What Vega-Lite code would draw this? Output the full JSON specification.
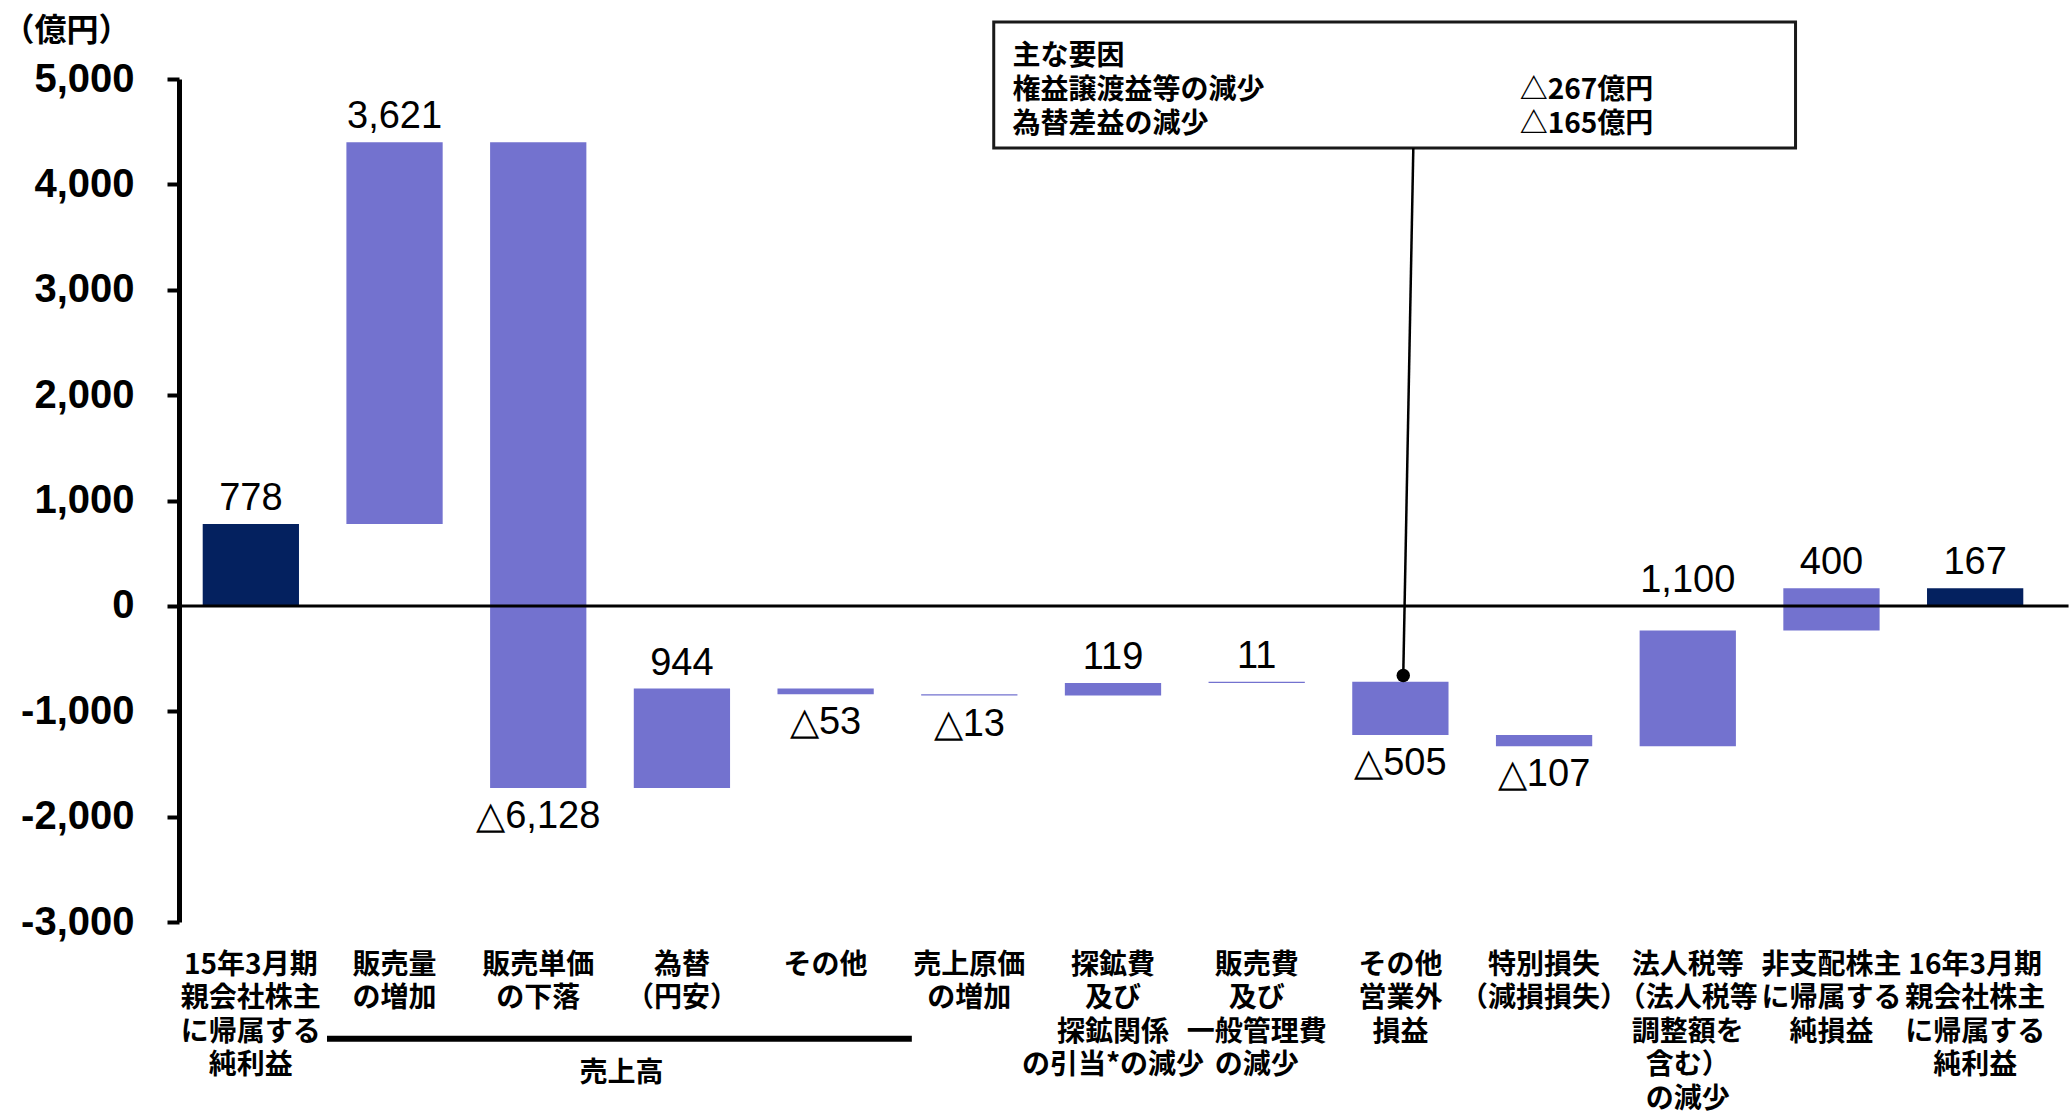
{
  "$schema": "https://vega.github.io/schema/vega-lite/v6.json",
  "width": 1868,
  "height": 843,
  "autosize": {"type": "none"},
  "padding": {"left": 179, "top": 79, "right": 24, "bottom": 195},
  "background": "white",
  "datasets": {
    "bridge": [
      {"label": "15年3月期\n親会社株主\nに帰属する\n純利益", "start": 0, "end": 778, "kind": "total", "text": "778"},
      {"label": "販売量\nの増加", "start": 778, "end": 4399, "kind": "up", "text": "3,621"},
      {"label": "販売単価\nの下落", "start": 4399, "end": -1729, "kind": "down", "text": "△6,128"},
      {"label": "為替\n（円安）", "start": -1729, "end": -785, "kind": "up", "text": "944"},
      {"label": "その他", "start": -785, "end": -838, "kind": "down", "text": "△53"},
      {"label": "売上原価\nの増加", "start": -838, "end": -851, "kind": "down", "text": "△13"},
      {"label": "探鉱費\n及び\n探鉱関係\nの引当*の減少", "start": -851, "end": -732, "kind": "up", "text": "119"},
      {"label": "販売費\n及び\n一般管理費\nの減少", "start": -732, "end": -721, "kind": "up", "text": "11"},
      {"label": "その他\n営業外\n損益", "start": -721, "end": -1226, "kind": "down", "text": "△505"},
      {"label": "特別損失\n（減損損失）", "start": -1226, "end": -1333, "kind": "down", "text": "△107"},
      {"label": "法人税等\n（法人税等\n調整額を\n含む）\nの減少", "start": -1333, "end": -233, "kind": "up", "text": "1,100"},
      {"label": "非支配株主\nに帰属する\n純損益", "start": -233, "end": 167, "kind": "up", "text": "400"},
      {"label": "16年3月期\n親会社株主\nに帰属する\n純利益", "start": 0, "end": 167, "kind": "total", "text": "167"}
    ]
  },
  "data": {"name": "bridge"},
  "resolve": {
    "scale": {"x": "independent", "y": "independent"},
    "axis": {"x": "independent", "y": "independent"}
  },
  "layer": [
    {
      "layer": [
        {
          "mark": {"type": "bar"},
          "encoding": {
            "x": {
              "field": "label",
              "type": "nominal",
              "sort": null,
              "scale": {"paddingInner": 0.33, "paddingOuter": 0.165},
              "axis": {
                "title": null,
                "domain": false,
                "ticks": false,
                "labelAngle": 0,
                "labelExpr": "split(datum.label, '\\n')",
                "labelFont": "Noto Sans CJK JP",
                "labelFontWeight": "bold",
                "labelFontSize": 28,
                "labelLineHeight": 33.5,
                "labelBaseline": "top",
                "labelPadding": 29,
                "labelColor": "black",
                "labelOverlap": false,
                "labelBound": false,
                "labelLimit": 400
              }
            },
            "y": {
              "field": "start",
              "type": "quantitative",
              "scale": {"domain": [-3000, 5000], "nice": false, "zero": false},
              "axis": {
                "title": "（億円）",
                "titleAngle": 0,
                "titleAlign": "left",
                "titleBaseline": "middle",
                "titleX": -177,
                "titleY": -49,
                "titleFont": "Noto Sans CJK JP",
                "titleFontSize": 32,
                "titleFontWeight": "bold",
                "titleColor": "black",
                "values": [-3000, -2000, -1000, 0, 1000, 2000, 3000, 4000, 5000],
                "labelExpr": "replace(format(datum.value, ','), '−', '-')",
                "labelFont": "Liberation Sans",
                "labelFontWeight": "bold",
                "labelFontSize": 40,
                "labelColor": "black",
                "labelPadding": 33,
                "tickSize": 12,
                "tickWidth": 4,
                "tickColor": "black",
                "domainColor": "black",
                "domainWidth": 5,
                "grid": false
              }
            },
            "y2": {"field": "end"},
            "color": {
              "field": "kind",
              "type": "nominal",
              "scale": {"domain": ["total", "up", "down"], "range": ["#04215f", "#7372cf", "#7372cf"]},
              "legend": null
            }
          }
        },
        {
          "transform": [
            {"filter": "datum.kind != 'down'"},
            {"calculate": "datum.end < 0 && datum.end > -300 ? 0 : datum.end", "as": "labelAt"}
          ],
          "mark": {"type": "text", "font": "Liberation Sans", "fontSize": 38, "color": "black", "baseline": "alphabetic", "dy": -14},
          "encoding": {
            "x": {"field": "label", "type": "nominal", "sort": null},
            "y": {"field": "labelAt", "type": "quantitative"},
            "text": {"field": "text"}
          }
        },
        {
          "transform": [{"filter": "datum.kind == 'down'"}],
          "mark": {"type": "text", "font": "Liberation Sans", "fontSize": 38, "color": "black", "baseline": "alphabetic", "dy": 40},
          "encoding": {
            "x": {"field": "label", "type": "nominal", "sort": null},
            "y": {"field": "end", "type": "quantitative"},
            "text": {"field": "text"}
          }
        }
      ]
    },
    {
      "data": {"values": [{}]},
      "layer": [
        {
          "mark": {"type": "rule", "color": "black", "strokeWidth": 3, "clip": false},
          "encoding": {
            "x": {"datum": 0, "type": "quantitative", "scale": {"domain": [0, 13], "nice": false, "zero": false}, "axis": null},
            "x2": {"datum": 13.15},
            "y": {"datum": 0, "type": "quantitative", "scale": {"domain": [-3000, 5000], "nice": false, "zero": false}, "axis": null}
          }
        },
        {
          "mark": {"type": "rect", "fill": "white", "stroke": "#1a1a1a", "strokeWidth": 3, "clip": false},
          "encoding": {
            "x": {"datum": 5.67, "type": "quantitative", "scale": {"domain": [0, 13], "nice": false, "zero": false}, "axis": null},
            "x2": {"datum": 11.25},
            "y": {"datum": 5540, "type": "quantitative", "scale": {"domain": [-3000, 5000], "nice": false, "zero": false}, "axis": null},
            "y2": {"datum": 4345}
          }
        },
        {
          "mark": {"type": "text", "font": "Noto Sans CJK JP", "fontWeight": "bold", "fontSize": 28, "lineHeight": 34, "align": "left", "baseline": "top", "color": "black"},
          "encoding": {
            "x": {"datum": 5.8, "type": "quantitative", "scale": {"domain": [0, 13], "nice": false, "zero": false}, "axis": null},
            "y": {"datum": 5345, "type": "quantitative", "scale": {"domain": [-3000, 5000], "nice": false, "zero": false}, "axis": null},
            "text": {"value": ["主な要因", "権益譲渡益等の減少", "為替差益の減少"]}
          }
        },
        {
          "mark": {"type": "text", "font": "Noto Sans CJK JP", "fontWeight": "bold", "fontSize": 28, "lineHeight": 34, "align": "left", "baseline": "top", "color": "black"},
          "encoding": {
            "x": {"datum": 9.33, "type": "quantitative", "scale": {"domain": [0, 13], "nice": false, "zero": false}, "axis": null},
            "y": {"datum": 5345, "type": "quantitative", "scale": {"domain": [-3000, 5000], "nice": false, "zero": false}, "axis": null},
            "text": {"value": [" ", "△267億円", "△165億円"]}
          }
        },
        {
          "mark": {"type": "rule", "color": "black", "strokeWidth": 2.5},
          "encoding": {
            "x": {"datum": 8.59, "type": "quantitative", "scale": {"domain": [0, 13], "nice": false, "zero": false}, "axis": null},
            "x2": {"datum": 8.52},
            "y": {"datum": 4345, "type": "quantitative", "scale": {"domain": [-3000, 5000], "nice": false, "zero": false}, "axis": null},
            "y2": {"datum": -660}
          }
        },
        {
          "mark": {"type": "circle", "color": "black", "opacity": 1, "size": 180},
          "encoding": {
            "x": {"datum": 8.52, "type": "quantitative", "scale": {"domain": [0, 13], "nice": false, "zero": false}, "axis": null},
            "y": {"datum": -660, "type": "quantitative", "scale": {"domain": [-3000, 5000], "nice": false, "zero": false}, "axis": null}
          }
        },
        {
          "mark": {"type": "rule", "color": "black", "strokeWidth": 6, "clip": false},
          "encoding": {
            "x": {"datum": 1.03, "type": "quantitative", "scale": {"domain": [0, 13], "nice": false, "zero": false}, "axis": null},
            "x2": {"datum": 5.1},
            "y": {"datum": -4108, "type": "quantitative", "scale": {"domain": [-3000, 5000], "nice": false, "zero": false}, "axis": null}
          }
        },
        {
          "mark": {"type": "text", "font": "Noto Sans CJK JP", "fontWeight": "bold", "fontSize": 28, "align": "center", "baseline": "middle", "color": "black"},
          "encoding": {
            "x": {"datum": 3.08, "type": "quantitative", "scale": {"domain": [0, 13], "nice": false, "zero": false}, "axis": null},
            "y": {"datum": -4440, "type": "quantitative", "scale": {"domain": [-3000, 5000], "nice": false, "zero": false}, "axis": null},
            "text": {"value": "売上高"}
          }
        }
      ]
    }
  ],
  "config": {
    "view": {"stroke": null}
  }
}
